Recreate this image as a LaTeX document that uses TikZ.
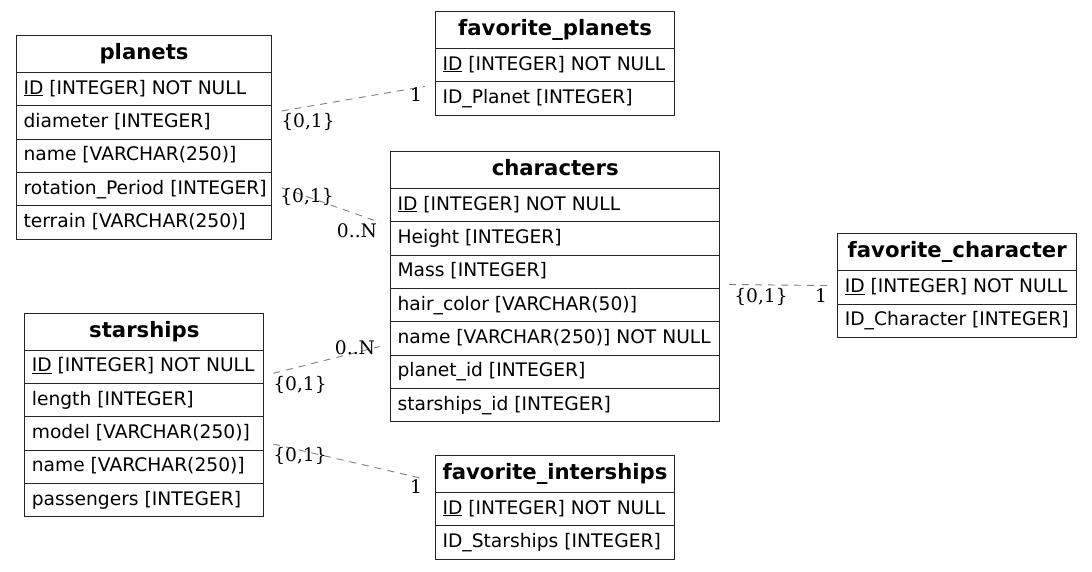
\documentclass[tikz,border=0pt]{standalone}
\usepackage{fontspec}
\setmainfont{DejaVu Sans}
\newfontfamily\lblfont{DejaVu Serif}

% #1 node name, #2 left x, #3 width, #4 top y, #5 title, #6 comma-separated columns
\newcommand\dbtable[6]{%
  \pgfmathsetmacro\tblw{#3-14}%
  \node[tblhead, minimum width=#3pt] (#1) at (#2,#4) {\makebox[\tblw pt][c]{#5}};
  \foreach \rowtext [count=\i] in {#6} {
    \node[tblrow, minimum width=#3pt] (#1-\i) at (#2,{#4+37+(\i-1)*33.33}) {\makebox[\tblw pt][l]{\rowtext}};
  }
}

\begin{document}
\begin{tikzpicture}[x=1pt,y=-1pt,
  tblcell/.style={draw=black!85, line width=1.1pt, anchor=north west, inner xsep=7pt, inner ysep=0pt,
    text height=14pt, text depth=4pt, font=\fontsize{18.67}{22}\selectfont},
  tblhead/.style={tblcell, minimum height=37pt, text height=15pt, font=\fontsize{21.2}{24}\selectfont\bfseries},
  tblrow/.style={tblcell, minimum height=33.33pt},
  conn/.style={draw=black!50, line width=0.9pt, dash pattern=on 7pt off 6pt},
  card/.style={font=\fontsize{18.67}{22}\selectfont\lblfont, inner sep=0pt, anchor=base}]

\useasboundingbox[fill=white] (0,0) rectangle (1092,571);

% tables
\dbtable{planets}{16}{255}{35}{planets}{\underline{ID} [INTEGER] NOT NULL, diameter [INTEGER], name [VARCHAR(250)], rotation\_Period [INTEGER], terrain [VARCHAR(250)]}
\dbtable{favplanets}{435}{239}{11}{favorite\_planets}{\underline{ID} [INTEGER] NOT NULL, ID\_Planet [INTEGER]}
\dbtable{characters}{390}{329.3}{151}{characters}{\underline{ID} [INTEGER] NOT NULL, Height [INTEGER], Mass [INTEGER], hair\_color [VARCHAR(50)], name [VARCHAR(250)] NOT NULL, planet\_id [INTEGER], starships\_id [INTEGER]}
\dbtable{favcharacter}{837.3}{238.7}{233.3}{favorite\_character}{\underline{ID} [INTEGER] NOT NULL, ID\_Character [INTEGER]}
\dbtable{starships}{24.3}{239}{312.7}{starships}{\underline{ID} [INTEGER] NOT NULL, length [INTEGER], model [VARCHAR(250)], name [VARCHAR(250)], passengers [INTEGER]}
\dbtable{favinterships}{435}{239}{455}{favorite\_interships}{\underline{ID} [INTEGER] NOT NULL, ID\_Starships [INTEGER]}

% connector ports
\coordinate (pl-diam) at (281.7,111);
\coordinate (fp-in) at (425,86.4);
\coordinate (pl-rot) at (281.7,187.7);
\coordinate (ch-in1) at (380,222.4);
\coordinate (st-id) at (273.3,373.3);
\coordinate (ch-in2) at (380,346.5);
\coordinate (st-model) at (273.3,444);
\coordinate (fi-in) at (425,479.1);
\coordinate (ch-out) at (729,284.5);
\coordinate (fc-in) at (827,285.5);

% relations
\draw[conn] (pl-diam) -- (fp-in);
\draw[conn] (pl-rot) -- (ch-in1);
\draw[conn] (st-id) -- (ch-in2);
\draw[conn] (st-model) -- (fi-in);
\draw[conn] (ch-out) -- (fc-in);

% cardinalities
\node[card] (c1a) at (308,127) {\{0,1\}};
\node[card] (c1b) at (416,101) {1};
\node[card] (c2a) at (307,202) {\{0,1\}};
\node[card] (c2b) at (357,237) {0..N};
\node[card] (c4a) at (300,390) {\{0,1\}};
\node[card] (c4b) at (355,354) {0..N};
\node[card] (c5a) at (300,461) {\{0,1\}};
\node[card] (c5b) at (416,493) {1};
\node[card] (c3a) at (761,302) {\{0,1\}};
\node[card] (c3b) at (821,302) {1};
\end{tikzpicture}
\end{document}
